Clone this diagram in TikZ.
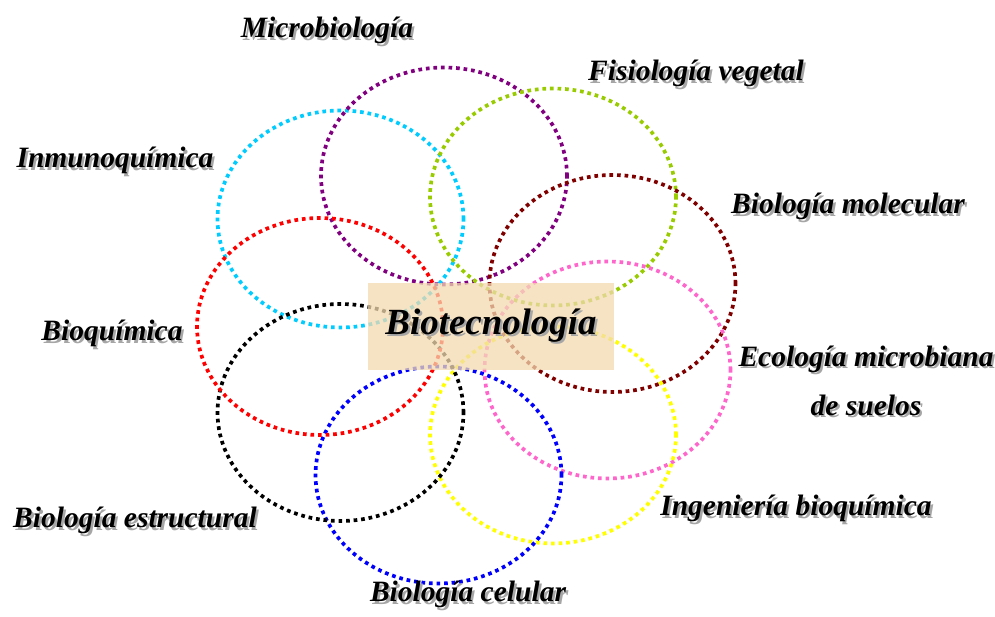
\documentclass[tikz,border=0pt]{standalone}
\usepackage{fontspec}
\setmainfont{Liberation Serif}
\usepackage{tikz}

% colours of the fields
\definecolor{fcyan}{RGB}{0,204,255}
\definecolor{fpurple}{RGB}{128,0,128}
\definecolor{fgreen}{RGB}{153,204,0}
\definecolor{fdarkred}{RGB}{128,0,0}
\definecolor{fpink}{RGB}{255,102,204}
\definecolor{fyellow}{RGB}{255,255,0}
\definecolor{fblue}{RGB}{0,0,255}
\definecolor{fred}{RGB}{255,0,0}
\definecolor{parchment}{RGB}{243,218,176}

% text with a soft grey shadow
\newcommand{\shadowed}[1]{\makebox[0pt][l]{\hspace{1.3pt}\raisebox{-1.3pt}{\textcolor{black!35}{#1}}}#1}

\begin{document}
\begin{tikzpicture}[x=0.02cm, y=-0.02cm,
    field/.style={line width=2.1pt, dash pattern=on 2.1pt off 2.2pt},
    area/.style={font=\fontsize{16.8}{28}\selectfont\bfseries\itshape, align=center}]
    \useasboundingbox (0,0) rectangle (995,617);

    % Draw the overlapping fields
    \foreach \x/\y/\col in {340.5/219/fcyan, 444/176/fpurple, 553/197/fgreen,
        612.5/283.5/fdarkred, 607.5/370/fpink, 553/435/fyellow,
        438.5/475/fblue, 340.5/412.5/black, 320/326.5/fred} {
        \draw[field, \col] (\x,\y) ellipse [x radius=2.46cm, y radius=2.17cm];
    }

    % Central box
    \node[fill=parchment, fill opacity=0.75, text opacity=1,
        minimum width=4.92cm, minimum height=1.74cm,
        font=\fontsize{21}{25}\selectfont\bfseries\itshape] (bio) at (491,326.5) {\shadowed{Biotecnología}};

    % Place the labels of the fields
    \node[area] (micro) at (327,32) {\shadowed{Microbiología}};
    \node[area] (fisio) at (696,75) {\shadowed{Fisiología vegetal}};
    \node[area] (inmuno) at (115,162) {\shadowed{Inmunoquímica}};
    \node[area] (molec) at (848,208) {\shadowed{Biología molecular}};
    \node[area] (bioq) at (112,335) {\shadowed{Bioquímica}};
    \node[area] (ecol) at (866,382) {\shadowed{Ecología microbiana}\\\shadowed{de suelos}};
    \node[area] (ingen) at (796,510) {\shadowed{Ingeniería bioquímica}};
    \node[area] (estruc) at (135,522) {\shadowed{Biología estructural}};
    \node[area] (celul) at (468,596) {\shadowed{Biología celular}};
\end{tikzpicture}
\end{document}
